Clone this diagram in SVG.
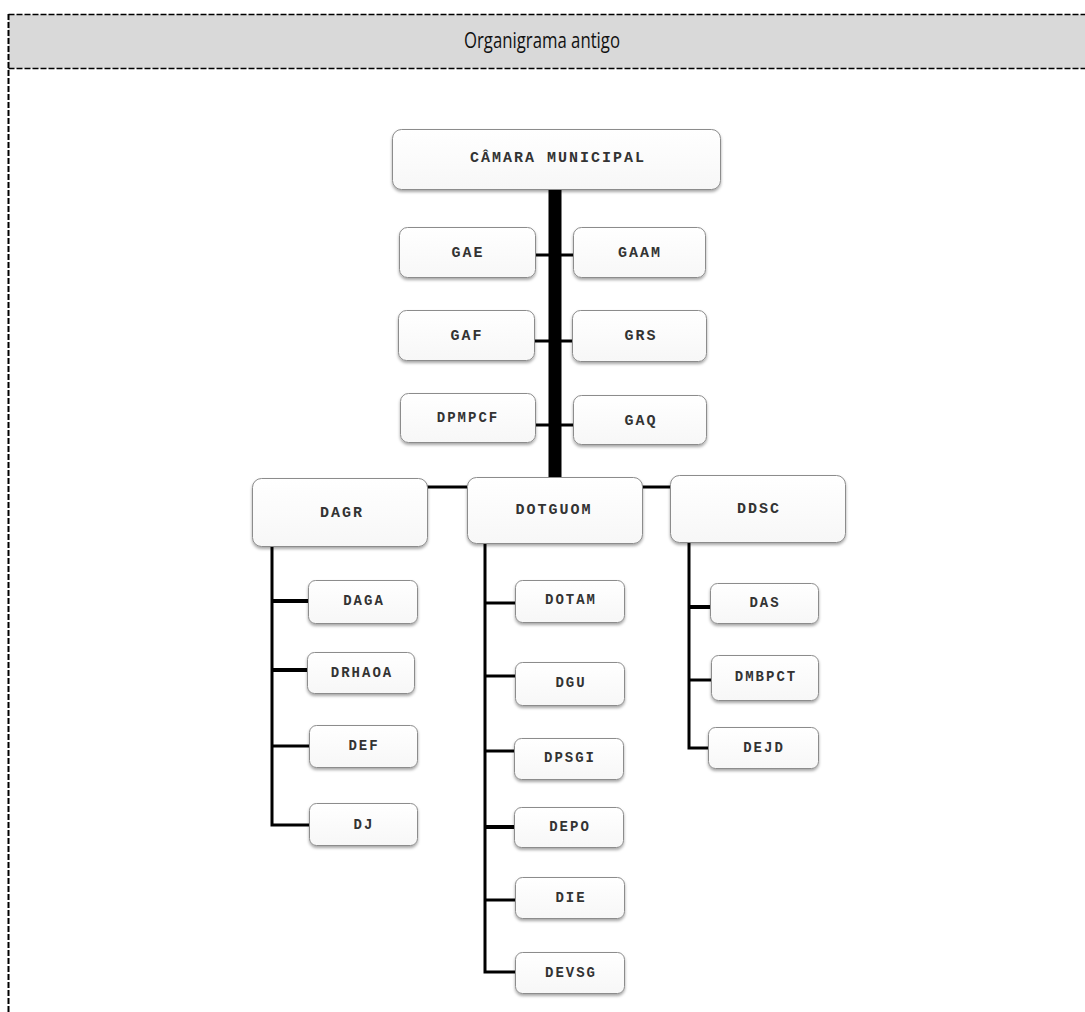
<svg xmlns="http://www.w3.org/2000/svg" width="1085" height="1012" viewBox="0 0 1085 1012">
  <defs>
    <filter id="shadow" x="-10%" y="-20%" width="120%" height="150%">
      <feDropShadow dx="0" dy="2" stdDeviation="1.5" flood-color="#000" flood-opacity="0.35"/>
    </filter>
    <linearGradient id="boxFill" x1="0" y1="0" x2="0" y2="1">
      <stop offset="0" stop-color="#ffffff"/>
      <stop offset="1" stop-color="#f7f7f7"/>
    </linearGradient>
  </defs>
  <style>
    .box { fill: url(#boxFill); stroke: #8c8c8c; stroke-width: 1; filter: url(#shadow); }
    .lbl { font-family: "Liberation Mono", "DejaVu Sans Mono", monospace; font-size: 15px; font-weight: bold; fill: #333; letter-spacing: 2px; text-anchor: middle; dominant-baseline: central; }
    .lbl-s { font-size: 14px; letter-spacing: 2px; }
    .link { stroke: #000; stroke-width: 3; fill: none; }
    .thick { stroke-width: 4; }
    .frame { stroke: #000; fill: none; stroke-dasharray: 6 2; }
  </style>

  <!-- page frame and header band -->
  <g id="header">
    <rect x="8.5" y="14.5" width="1080" height="54" fill="#d9d9d9"/>
    <line class="frame" x1="8.5" y1="14.5" x2="1085" y2="14.5" stroke-width="1.5"/>
    <line class="frame" x1="8.5" y1="68.5" x2="1085" y2="68.5" stroke-width="1.5"/>
    <line class="frame" x1="8.5" y1="14" x2="8.5" y2="1012" stroke-width="2" stroke-dasharray="6 1"/>
    <text x="542" y="40" font-family="'Open Sans', 'Liberation Sans', sans-serif" font-size="21" fill="#111" text-anchor="middle" dominant-baseline="central" textLength="156" lengthAdjust="spacingAndGlyphs">Organigrama antigo</text>
  </g>

  <!-- connectors -->
  <g id="connectors">
    <line x1="555" y1="189" x2="555" y2="479" stroke="#000" stroke-width="13"/>
    <line class="link" x1="535" y1="255" x2="573" y2="255"/>
    <line class="link" x1="534" y1="341" x2="572" y2="341"/>
    <line class="link" x1="535" y1="425" x2="573" y2="425"/>
    <line class="link" x1="427" y1="487" x2="467" y2="487"/>
    <line class="link" x1="642" y1="487" x2="670" y2="487"/>
    <!-- DAGR branch -->
    <polyline class="link" points="272,546 272,825 309,825"/>
    <line class="link thick" x1="272" y1="601" x2="308" y2="601"/>
    <line class="link thick" x1="272" y1="670" x2="307" y2="670"/>
    <line class="link" x1="272" y1="746" x2="309" y2="746"/>
    <!-- DOTGUOM branch -->
    <polyline class="link" points="485,543 485,972 515,972"/>
    <line class="link" x1="485" y1="603" x2="515" y2="603"/>
    <line class="link" x1="485" y1="676" x2="515" y2="676"/>
    <line class="link" x1="485" y1="751" x2="514" y2="751"/>
    <line class="link thick" x1="485" y1="827" x2="514" y2="827"/>
    <line class="link" x1="485" y1="900" x2="515" y2="900"/>
    <!-- DDSC branch -->
    <polyline class="link" points="689,542 689,748 708,748"/>
    <line class="link thick" x1="689" y1="607" x2="710" y2="607"/>
    <line class="link" x1="689" y1="680" x2="711" y2="680"/>
  </g>

  <!-- top level -->
  <g id="camara-municipal">
    <rect class="box" x="392.5" y="129.5" width="328" height="60" rx="9"/>
    <text class="lbl" x="558" y="158">CÂMARA MUNICIPAL</text>
  </g>

  <!-- offices attached to the trunk -->
  <g id="gae">
    <rect class="box" x="399.5" y="227.5" width="136" height="50" rx="8"/>
    <text class="lbl" x="468" y="253">GAE</text>
  </g>
  <g id="gaam">
    <rect class="box" x="573.5" y="227.5" width="132" height="50" rx="8"/>
    <text class="lbl" x="640" y="253">GAAM</text>
  </g>
  <g id="gaf">
    <rect class="box" x="398.5" y="310.5" width="136" height="50" rx="8"/>
    <text class="lbl" x="467" y="336">GAF</text>
  </g>
  <g id="grs">
    <rect class="box" x="572.5" y="310.5" width="134" height="51" rx="8"/>
    <text class="lbl" x="641" y="336">GRS</text>
  </g>
  <g id="dpmpcf">
    <rect class="box" x="400.5" y="393.5" width="135" height="49" rx="8"/>
    <text class="lbl lbl-s" x="468" y="418">DPMPCF</text>
  </g>
  <g id="gaq">
    <rect class="box" x="573.5" y="395.5" width="133" height="49" rx="8"/>
    <text class="lbl" x="641" y="421">GAQ</text>
  </g>

  <!-- departments -->
  <g id="dagr">
    <rect class="box" x="252.5" y="478.5" width="175" height="68" rx="9"/>
    <text class="lbl" x="342" y="513">DAGR</text>
  </g>
  <g id="dotguom">
    <rect class="box" x="467.5" y="477.5" width="175" height="66" rx="9"/>
    <text class="lbl" x="554" y="510">DOTGUOM</text>
  </g>
  <g id="ddsc">
    <rect class="box" x="670.5" y="475.5" width="175" height="67" rx="9"/>
    <text class="lbl" x="759" y="509">DDSC</text>
  </g>

  <!-- DAGR divisions -->
  <g id="daga">
    <rect class="box" x="308.5" y="580.5" width="109" height="43" rx="7"/>
    <text class="lbl lbl-s" x="364" y="601">DAGA</text>
  </g>
  <g id="drhaoa">
    <rect class="box" x="307.5" y="652.5" width="107" height="41" rx="7"/>
    <text class="lbl lbl-s" x="362" y="673">DRHAOA</text>
  </g>
  <g id="def">
    <rect class="box" x="309.5" y="725.5" width="108" height="42" rx="7"/>
    <text class="lbl lbl-s" x="364" y="746">DEF</text>
  </g>
  <g id="dj">
    <rect class="box" x="309.5" y="803.5" width="108" height="42" rx="7"/>
    <text class="lbl lbl-s" x="364" y="825">DJ</text>
  </g>

  <!-- DOTGUOM divisions -->
  <g id="dotam">
    <rect class="box" x="515.5" y="580.5" width="109" height="42" rx="7"/>
    <text class="lbl lbl-s" x="571" y="600">DOTAM</text>
  </g>
  <g id="dgu">
    <rect class="box" x="515.5" y="662.5" width="109" height="43" rx="7"/>
    <text class="lbl lbl-s" x="571" y="683">DGU</text>
  </g>
  <g id="dpsgi">
    <rect class="box" x="514.5" y="738.5" width="109" height="41" rx="7"/>
    <text class="lbl lbl-s" x="570" y="758">DPSGI</text>
  </g>
  <g id="depo">
    <rect class="box" x="514.5" y="807.5" width="109" height="40" rx="7"/>
    <text class="lbl lbl-s" x="570" y="827">DEPO</text>
  </g>
  <g id="die">
    <rect class="box" x="515.5" y="877.5" width="109" height="41" rx="7"/>
    <text class="lbl lbl-s" x="571" y="898">DIE</text>
  </g>
  <g id="devsg">
    <rect class="box" x="515.5" y="952.5" width="109" height="41" rx="7"/>
    <text class="lbl lbl-s" x="571" y="973">DEVSG</text>
  </g>

  <!-- DDSC divisions -->
  <g id="das">
    <rect class="box" x="710.5" y="583.5" width="108" height="40" rx="7"/>
    <text class="lbl lbl-s" x="765" y="603">DAS</text>
  </g>
  <g id="dmbpct">
    <rect class="box" x="711.5" y="655.5" width="107" height="45" rx="7"/>
    <text class="lbl lbl-s" x="766" y="677">DMBPCT</text>
  </g>
  <g id="dejd">
    <rect class="box" x="708.5" y="727.5" width="110" height="41" rx="7"/>
    <text class="lbl lbl-s" x="764" y="748">DEJD</text>
  </g>
</svg>
